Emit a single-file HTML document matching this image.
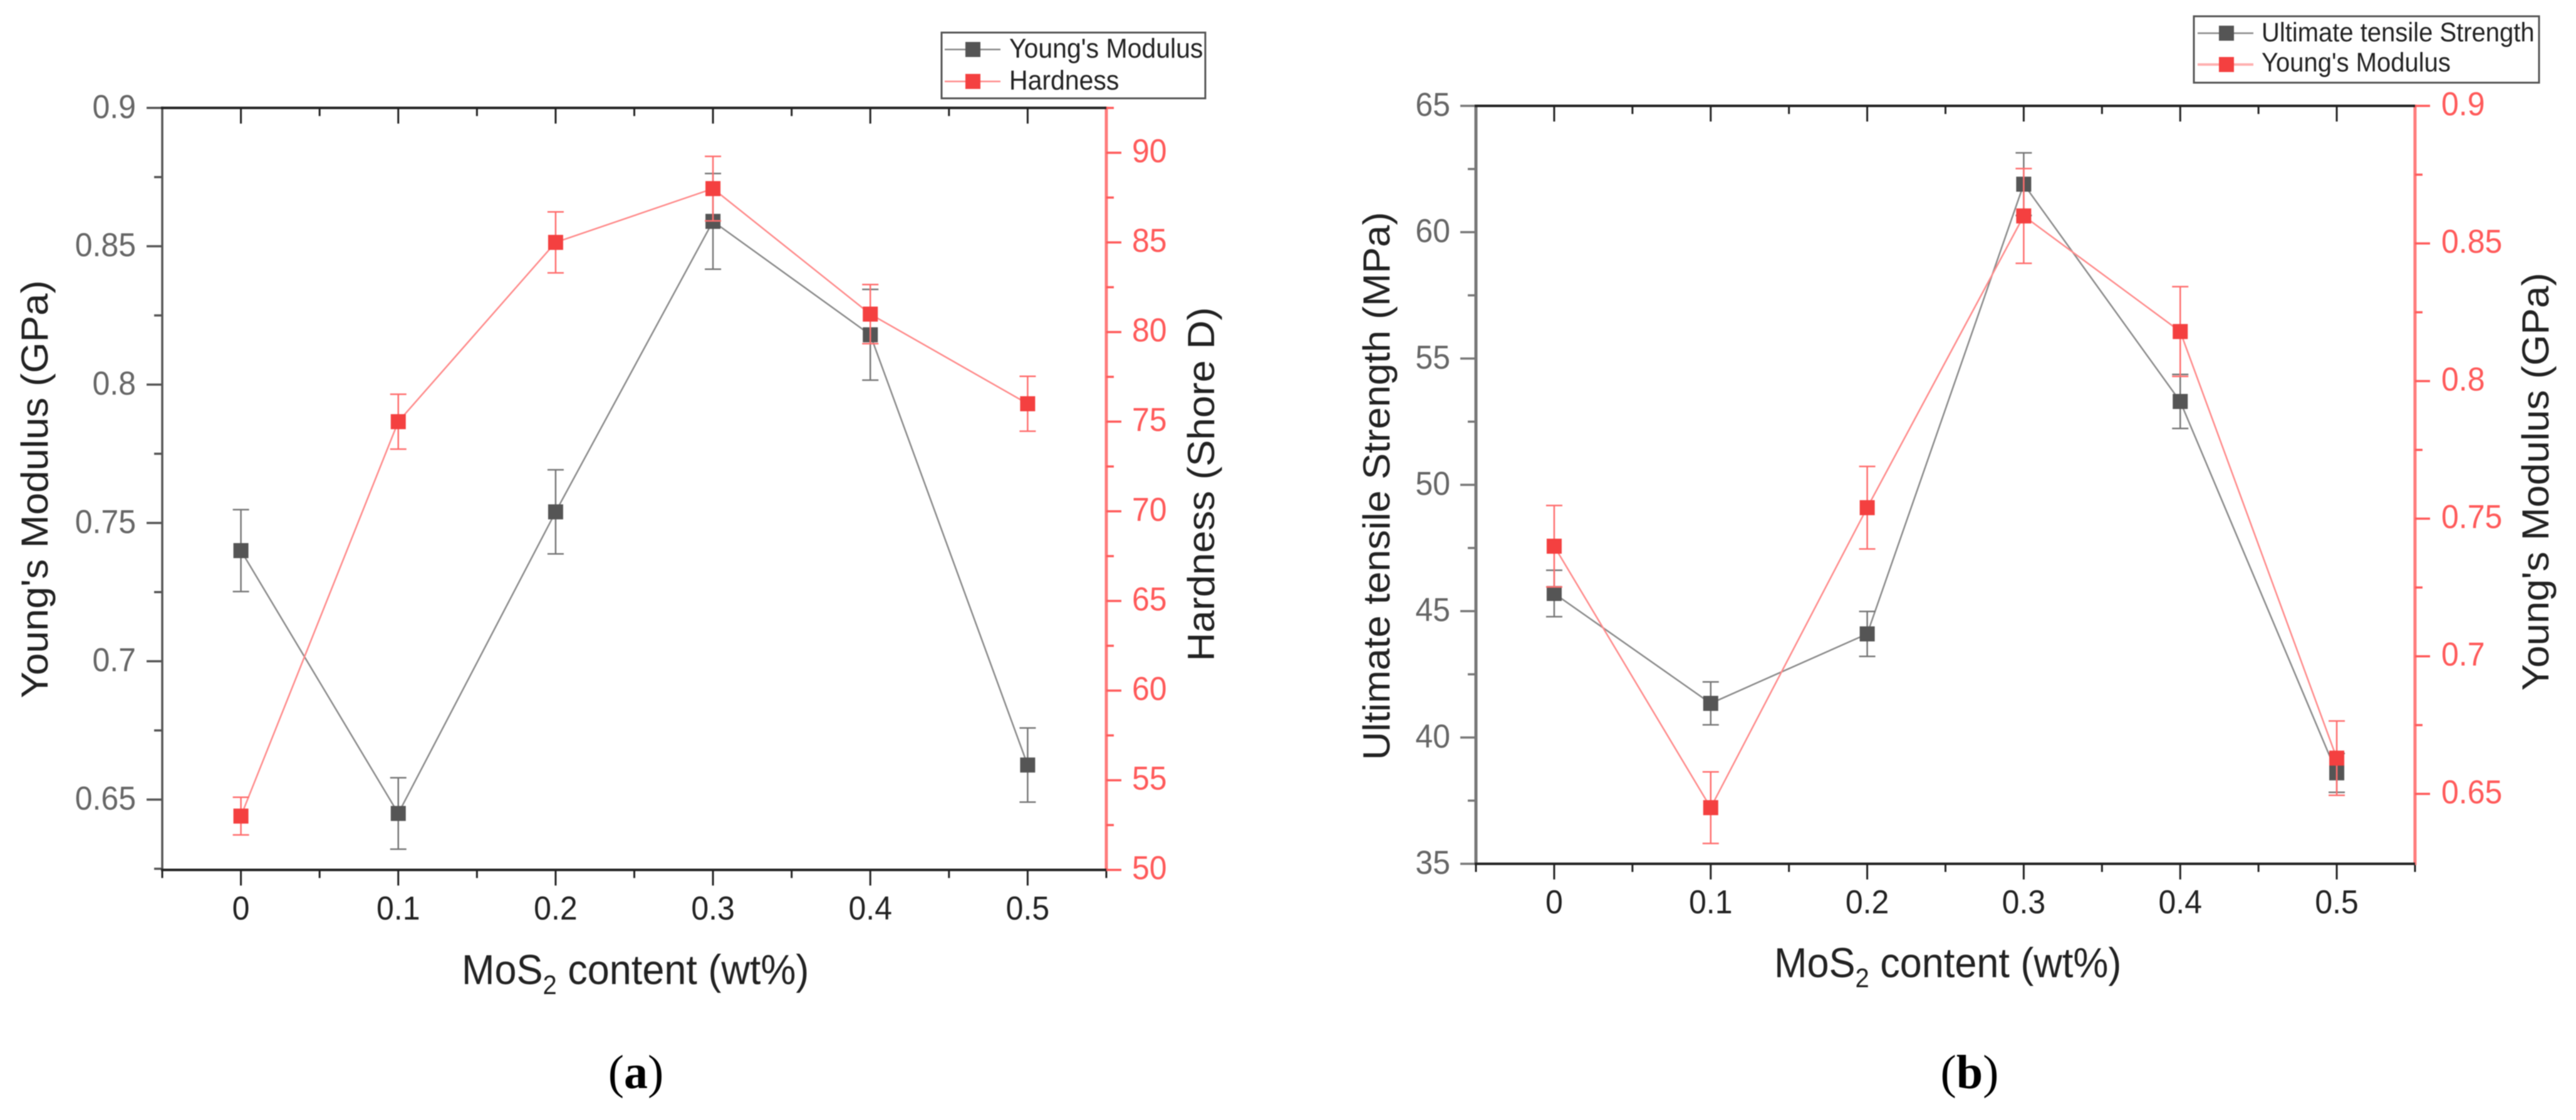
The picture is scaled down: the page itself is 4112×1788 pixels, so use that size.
<!DOCTYPE html>
<html lang="en">
<head>
<meta charset="utf-8">
<title>Young's Modulus, Hardness and Tensile Strength vs MoS2 content</title>
<style>
html,body{margin:0;padding:0;background:#fff;width:4112px;height:1788px;overflow:hidden}
svg{display:block;position:absolute;left:0;top:0;filter:blur(0.8px)}
text{font-family:"Liberation Sans",sans-serif}
</style>
</head>
<body>
<svg id="figure" xmlns="http://www.w3.org/2000/svg" width="4112" height="1788" viewBox="0 0 4112 1788">
  <rect x="0" y="0" width="4112" height="1788" fill="#fff"/>

  <g id="panel-a"></g>
  <g id="panel-b"></g>

  <g>
    <text transform="translate(76,781) scale(1,1.06) rotate(-90)" font-size="60" text-anchor="middle" fill="#222">Young's Modulus (GPa)</text>
    <text transform="translate(1938,773) scale(1,1.06) rotate(-90)" font-size="60" text-anchor="middle" fill="#222">Hardness (Shore D)</text>
    <text transform="translate(737,1571) scale(1,1.06)" font-size="63" fill="#222">MoS<tspan font-size="40" dy="15">2</tspan><tspan dy="-15"> content (wt%)</tspan></text>
    <text transform="translate(1015,1737)" font-size="76" text-anchor="middle" fill="#000" style="font-family:'Liberation Serif',serif">(<tspan font-weight="bold">a</tspan>)</text>
  </g>

  <g>
    <text transform="translate(2218,776) scale(1,1.05) rotate(-90)" font-size="60" text-anchor="middle" fill="#222">Ultimate tensile Strength (MPa)</text>
    <text transform="translate(4068,769) scale(1,1.06) rotate(-90)" font-size="60" text-anchor="middle" fill="#222">Young's Modulus (GPa)</text>
    <text transform="translate(2832,1560) scale(1,1.06)" font-size="63" fill="#222">MoS<tspan font-size="40" dy="15">2</tspan><tspan dy="-15"> content (wt%)</tspan></text>
    <text transform="translate(3144,1737)" font-size="76" text-anchor="middle" fill="#000" style="font-family:'Liberation Serif',serif">(<tspan font-weight="bold">b</tspan>)</text>
  </g>

  <g>
    <rect x="1503" y="52" width="421" height="105" fill="#fff" stroke="#555" stroke-width="3"/>
    <line x1="1508" x2="1597" y1="79" y2="79" stroke="#888" stroke-width="2.5"/>
    <rect x="1541" y="67" width="24" height="24" fill="#555"/>
    <text transform="translate(1611,92) scale(1,1.06)" font-size="41" fill="#222">Young's Modulus</text>
    <line x1="1508" x2="1597" y1="130" y2="130" stroke="#ff8a8a" stroke-width="2.5"/>
    <rect x="1541" y="118" width="24" height="24" fill="#f44040"/>
    <text transform="translate(1611,143) scale(1,1.06)" font-size="41" fill="#222">Hardness</text>
  </g>

  <g>
    <rect x="3502" y="26" width="551" height="106" fill="#fff" stroke="#555" stroke-width="3"/>
    <line x1="3508" x2="3597" y1="53" y2="53" stroke="#888" stroke-width="2.5"/>
    <rect x="3542" y="41" width="24" height="24" fill="#555"/>
    <text transform="translate(3610,66) scale(1,1.06)" font-size="40" fill="#222">Ultimate tensile Strength</text>
    <line x1="3508" x2="3597" y1="103" y2="103" stroke="#ffb0b0" stroke-width="4"/>
    <rect x="3542" y="91" width="24" height="24" fill="#f44040"/>
    <text transform="translate(3610,114) scale(1,1.06)" font-size="40" fill="#222">Young's Modulus</text>
  </g>
</svg>

<script>
// Shared x categories and tick labels
var categories = [0, 0.1, 0.2, 0.3, 0.4, 0.5];
var xTickLabels = ['0', '0.1', '0.2', '0.3', '0.4', '0.5'];

// Panel (a) data
var aModulus = [0.74, 0.645, 0.754, 0.859, 0.818, 0.6625];
var aModulusErr = [0.0148, 0.0129, 0.0152, 0.0173, 0.0164, 0.0134];
var aHardness = [53, 75, 85, 88, 81, 76];
var aHardnessErr = [1.05, 1.53, 1.7, 1.8, 1.65, 1.53];
var aLeftTickLabels = ['0.65', '0.7', '0.75', '0.8', '0.85', '0.9'];
var aRightTickLabels = ['50', '55', '60', '65', '70', '75', '80', '85', '90'];

// Panel (b) data
var bStrength = [45.7, 41.35, 44.1, 61.9, 53.3, 38.6];
var bStrengthErr = [0.92, 0.85, 0.89, 1.24, 1.07, 0.77];
var bModulus = [0.74, 0.645, 0.754, 0.86, 0.818, 0.663];
var bModulusErr = [0.0148, 0.013, 0.015, 0.0172, 0.0163, 0.0135];
var bLeftTickLabels = ['35', '40', '45', '50', '55', '60', '65'];
var bRightTickLabels = ['0.65', '0.7', '0.75', '0.8', '0.85', '0.9'];

var NS = 'http://www.w3.org/2000/svg';

function scale(d0, d1, r0, r1) {
  return function (v) { return r0 + (v - d0) / (d1 - d0) * (r1 - r0); };
}

function addLine(parent, name, x1, y1, x2, y2, color, width) {
  var el = document.createElementNS(NS, 'line');
  
  
  el.setAttribute('x1', x1);
  el.setAttribute('y1', y1);
  el.setAttribute('x2', x2);
  el.setAttribute('y2', y2);
  el.setAttribute('stroke', color);
  el.setAttribute('stroke-width', width);
  parent.appendChild(el);
}

function addLabel(parent, name, x, y, str, anchor, color) {
  var el = document.createElementNS(NS, 'text');
  
  
  el.setAttribute('transform', 'translate(' + x + ',' + y + ') scale(1,1.06)');
  el.setAttribute('font-size', '50');
  el.setAttribute('text-anchor', anchor);
  el.setAttribute('fill', color);
  el.textContent = str;
  parent.appendChild(el);
}

function drawSeries(parent, prefix, xs, ys, errs, sy, lineColor, errColor, markColor) {
  var pts = [];
  for (var i = 0; i < xs.length; i++) {
    pts.push(xs[i] + ',' + sy(ys[i]));
  }
  var poly = document.createElementNS(NS, 'polyline');
  
  
  poly.setAttribute('points', pts.join(' '));
  poly.setAttribute('fill', 'none');
  poly.setAttribute('stroke', lineColor);
  poly.setAttribute('stroke-width', '2.5');
  parent.appendChild(poly);
  for (var j = 0; j < xs.length; j++) {
    var hi = sy(ys[j] + errs[j]);
    var lo = sy(ys[j] - errs[j]);
    addLine(parent, prefix + '-error-bar', xs[j], hi, xs[j], lo, errColor, 2.5);
    addLine(parent, prefix + '-error-cap-top', xs[j] - 13, hi, xs[j] + 13, hi, errColor, 2.5);
    addLine(parent, prefix + '-error-cap-bottom', xs[j] - 13, lo, xs[j] + 13, lo, errColor, 2.5);
    var m = document.createElementNS(NS, 'rect');
    
    
    m.setAttribute('x', xs[j] - 12);
    m.setAttribute('y', sy(ys[j]) - 12);
    m.setAttribute('width', 24);
    m.setAttribute('height', 24);
    m.setAttribute('fill', markColor);
    parent.appendChild(m);
  }
}

function drawPanel(cfg) {
  var g = document.getElementById(cfg.id);
  var sx = scale(-0.05, 0.55, cfg.left, cfg.right);
  var syL = scale(cfg.lMin, cfg.lMax, cfg.bottom, cfg.top);
  var syR = scale(cfg.rMin, cfg.rMax, cfg.bottom, cfg.top);
  var red = '#ff5a5a';
  var i, v, y, x;

  // minor and major x ticks on bottom and top spines
  for (i = -1; i <= 11; i++) {
    x = sx(i * 0.05);
    var major = i >= 0 && i % 2 === 0;
    var len = major ? 25 : 13;
    addLine(g, 'x-tick-bottom', x, cfg.bottom, x, cfg.bottom + len, '#222', 3);
    addLine(g, 'x-tick-top', x, cfg.top, x, cfg.top + len, '#222', 3);
  }
  for (i = 0; i < categories.length; i++) {
    addLabel(g, 'x-tick-label', sx(categories[i]), cfg.xLabelY, xTickLabels[i], 'middle', '#222');
  }

  // left axis
  addLine(g, 'y-axis-left', cfg.left, cfg.top - 2, cfg.left, cfg.bottom + 2, cfg.leftColor, cfg.leftWidth);
  var lStep = parseFloat(cfg.lLabels[1]) - parseFloat(cfg.lLabels[0]);
  for (i = 0; i < cfg.lLabels.length; i++) {
    v = parseFloat(cfg.lLabels[i]);
    y = syL(v);
    addLine(g, 'y-tick-left', cfg.left - 25, y, cfg.left, y, cfg.leftColor, 3.5);
    addLabel(g, 'y-tick-label-left', cfg.lLabelX, y + 16, cfg.lLabels[i], 'end', '#666');
    var mn = v - lStep / 2;
    if (syL(mn) <= cfg.bottom + 1) {
      addLine(g, 'y-minor-tick-left', cfg.left - 13, syL(mn), cfg.left, syL(mn), cfg.leftColor, 3.5);
    }
  }

  // right axis
  addLine(g, 'y-axis-right', cfg.right, cfg.top - 2, cfg.right, cfg.bottom + 2, '#ff7c7c', 5);
  var rStep = parseFloat(cfg.rLabels[1]) - parseFloat(cfg.rLabels[0]);
  for (i = 0; i < cfg.rLabels.length; i++) {
    v = parseFloat(cfg.rLabels[i]);
    y = syR(v);
    addLine(g, 'y-tick-right', cfg.right, y, cfg.right + 24, y, red, 3.5);
    addLabel(g, 'y-tick-label-right', cfg.rLabelX, y + 15, cfg.rLabels[i], 'start', red);
    var mr = v + rStep / 2;
    if (syR(mr) >= cfg.top - 1) {
      addLine(g, 'y-minor-tick-right', cfg.right, syR(mr), cfg.right + 12, syR(mr), red, 3.5);
    }
  }

  // top and bottom spines
  addLine(g, 'x-axis-bottom', cfg.left - 2, cfg.bottom, cfg.right, cfg.bottom, '#222', 4);
  addLine(g, 'x-axis-top', cfg.left - 2, cfg.top, cfg.right, cfg.top, '#222', 4);

  var xs = categories.map(sx);
  drawSeries(g, cfg.darkName, xs, cfg.darkY, cfg.darkErr, cfg.darkAxis === 'L' ? syL : syR, '#8a8a8a', '#777', '#555');
  drawSeries(g, cfg.redName, xs, cfg.redY, cfg.redErr, cfg.redAxis === 'L' ? syL : syR, '#ff8a8a', '#ff6e6e', '#f44040');
}

drawPanel({
  id: 'panel-a', left: 259, right: 1766, top: 172.3, bottom: 1388.7,
  lMin: 0.6246, lMax: 0.9, rMin: 50, rMax: 92.5,
  lLabels: aLeftTickLabels, rLabels: aRightTickLabels,
  lLabelX: 217, rLabelX: 1807, xLabelY: 1468,
  leftColor: '#555', leftWidth: 3.5,
  darkName: 'series-a-youngs-modulus', darkY: aModulus, darkErr: aModulusErr, darkAxis: 'L',
  redName: 'series-a-hardness', redY: aHardness, redErr: aHardnessErr, redAxis: 'R'
});

drawPanel({
  id: 'panel-b', left: 2356, right: 3855, top: 169, bottom: 1379,
  lMin: 35, lMax: 65, rMin: 0.6246, rMax: 0.9,
  lLabels: bLeftTickLabels, rLabels: bRightTickLabels,
  lLabelX: 2315, rLabelX: 3897, xLabelY: 1458,
  leftColor: '#777', leftWidth: 5,
  darkName: 'series-b-tensile-strength', darkY: bStrength, darkErr: bStrengthErr, darkAxis: 'L',
  redName: 'series-b-youngs-modulus', redY: bModulus, redErr: bModulusErr, redAxis: 'R'
});
</script>
</body>
</html>
